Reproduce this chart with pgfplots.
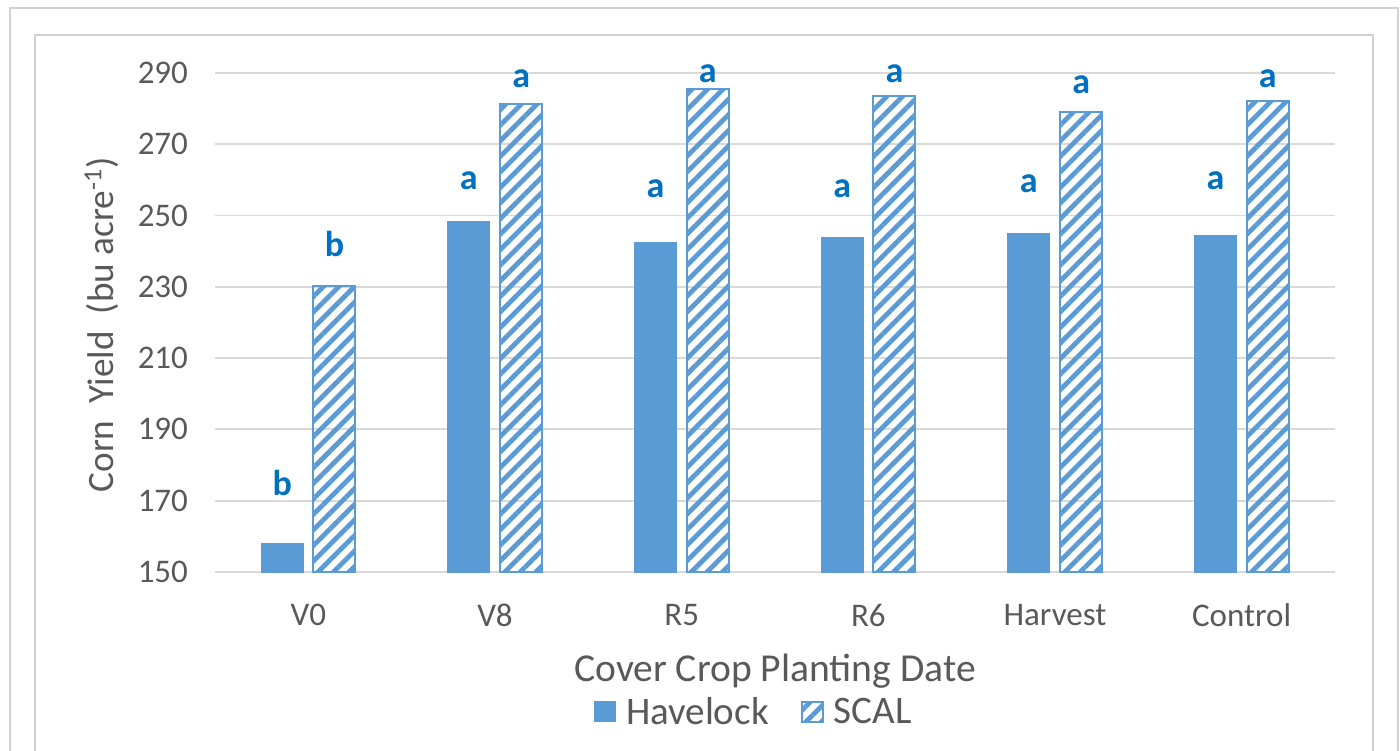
\documentclass[border=0pt]{standalone}
\usepackage{fontspec}
\setmainfont{Carlito}
\usepackage{pgfplots}
\pgfplotsset{compat=1.18}
\usetikzlibrary{patterns.meta}

\definecolor{barblue}{HTML}{5B9BD5}
\definecolor{lettblue}{HTML}{0070C0}
\definecolor{txtgray}{HTML}{595959}
\definecolor{gridgray}{HTML}{D9D9D9}
\definecolor{framegray}{HTML}{D0D0D0}

\begin{document}
\begin{tikzpicture}
\useasboundingbox (0,0) rectangle (700pt,375pt);
% chart frames
\draw[framegray, line width=1pt] (5pt,-5pt) -- (5pt,371pt) -- (699pt,371pt) -- (699pt,-5pt);
\draw[framegray, line width=1.2pt] (17.5pt,-5pt) -- (17.5pt,357.5pt) -- (686.5pt,357.5pt) -- (686.5pt,-5pt);

\begin{axis}[
    at={(107.5pt,89pt)}, anchor=south west,
    scale only axis,
    width=560pt, height=249.6pt,
    xmin=-0.5, xmax=5.5,
    ymin=150, ymax=290,
    ytick={150,170,...,290},
    xtick={0,1,2,3,4,5},
    xticklabels={V0,V8,R5,R6,Harvest,Control},
    axis line style={draw=none},
    ymajorgrids=true,
    grid style={gridgray, line width=0.9pt},
    major tick length=0pt,
    /pgf/number format/assume math mode=true,
    tick label style={font=\fontsize{16.5}{18}\selectfont, text=txtgray},
    yticklabel style={xshift=-10pt},
    xticklabel style={yshift=-12.5pt},
    xlabel={Cover Crop Planting Date},
    ylabel={Corn\ \ Yield\ \ (bu acre\textsuperscript{-1})},
    xlabel style={font=\fontsize{19.8}{21}\selectfont, text=txtgray,
        at={(axis description cs:0.5,-0.198)}, anchor=center},
    ylabel style={font=\fontsize{18.6}{20}\selectfont, text=txtgray,
        at={(axis description cs:-0.101,0.495)}, anchor=center},
    ybar,
    bar width=0.225,
    legend columns=2,
    legend style={draw=none, fill=none, at={(axis description cs:0.482,-0.282)}, anchor=center,
        font=\fontsize{19.5}{21}\selectfont, text=txtgray,
        /tikz/every odd column/.append style={column sep=3pt},
        /tikz/every even column/.append style={column sep=14pt}},
    legend image code/.code={\draw[#1] (0pt,-4.5pt) rectangle (10.5pt,5.5pt);},
    clip=false,
]
\addplot[fill=barblue, draw=barblue, bar shift=-0.14]
    coordinates {(0,158.1) (1,248.3) (2,242.5) (3,243.9) (4,244.9) (5,244.4)};
\addplot[draw=barblue, line width=1pt, bar shift=0.14,
    pattern={Lines[angle=45, distance=5.5pt, line width=2.4pt]}, pattern color=barblue]
    coordinates {(0,230.2) (1,281.2) (2,285.4) (3,283.5) (4,278.9) (5,282.1)};
\legend{Havelock, SCAL}

% significance letters
\begin{scope}[every node/.style={font=\bfseries\fontsize{18}{20}\selectfont, text=lettblue, anchor=center}]
\node at (axis cs:-0.14,174.9) {b};
\node at (axis cs:0.14,242.1) {b};
\node at (axis cs:0.86,259.8) {a};
\node at (axis cs:1.14,288.3) {a};
\node at (axis cs:1.86,257.4) {a};
\node at (axis cs:2.14,289.7) {a};
\node at (axis cs:2.86,257.5) {a};
\node at (axis cs:3.14,289.8) {a};
\node at (axis cs:3.86,258.8) {a};
\node at (axis cs:4.14,286.7) {a};
\node at (axis cs:4.86,259.6) {a};
\node at (axis cs:5.14,288.3) {a};
\end{scope}
\end{axis}
\end{tikzpicture}
\end{document}
